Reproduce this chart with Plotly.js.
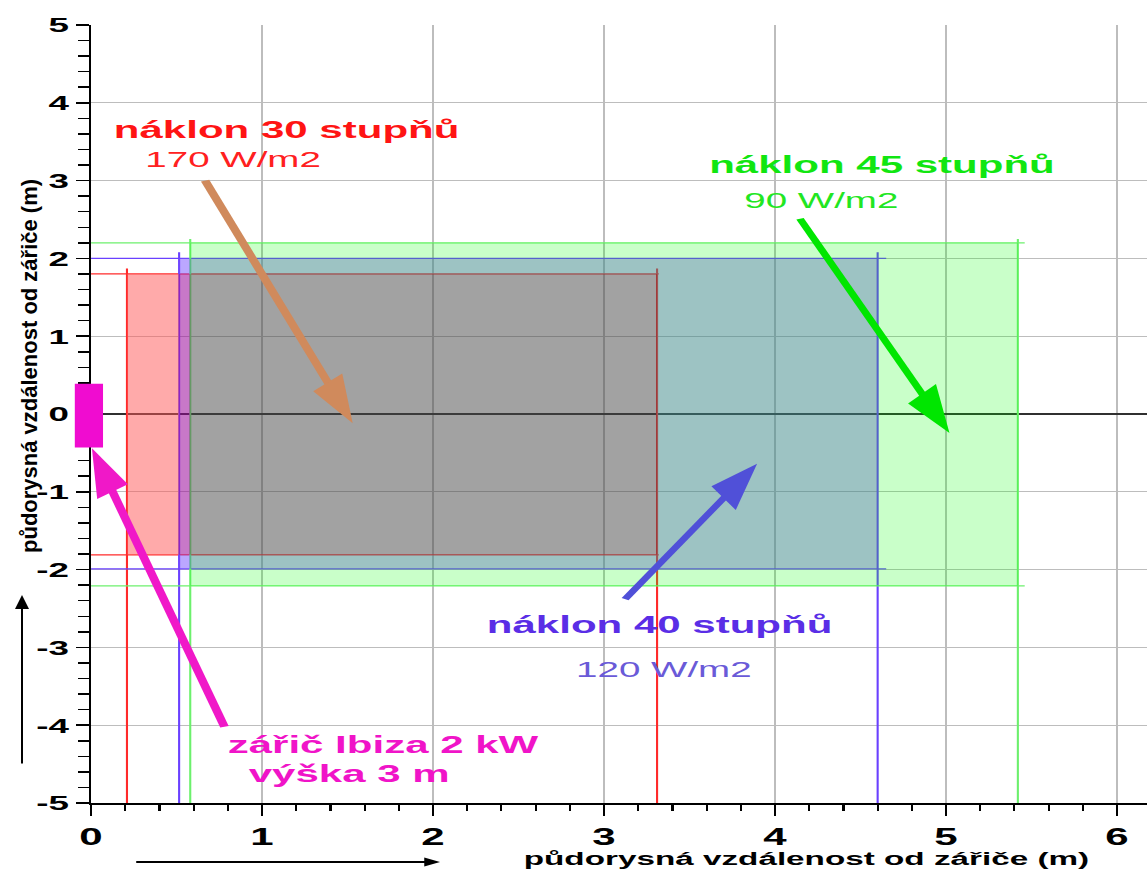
<!DOCTYPE html>
<html><head><meta charset="utf-8">
<script src="https://cdn.plot.ly/plotly-3.0.1.min.js"></script>
<style>
html,body{margin:0;padding:0;background:#fff;overflow:hidden}
#wrap{position:relative;width:1147px;height:877px;overflow:hidden}
#chart{position:absolute;left:0;top:0;width:655px;height:877px;transform:scaleX(1.7511);transform-origin:0 0}
#over{position:absolute;left:0;top:0;width:1147px;height:877px;pointer-events:none}
</style></head><body>
<div id="wrap"><div id="chart"></div><div id="over"></div></div>
<script>
// ---------- data ----------
const rectNames = ['náklon 30 stupňů', 'náklon 40 stupňů', 'náklon 45 stupňů'];
const rectPower = ['170 W/m2', '120 W/m2', '90 W/m2'];
const rectX0 = [0.21, 0.515, 0.58];
const rectX1 = [3.31, 4.60, 5.42];
const rectY0 = [-1.81, -1.99, -2.21];
const rectY1 = [1.80, 2.00, 2.20];
const emitterName = ['zářič Ibiza 2 kW', 'výška 3 m'];
const emitterX = [-0.095, 0.07];
const emitterY = [-0.43, 0.39];
// pointer arrows: tip and tail (30°, 40°, 45°, emitter)
const arrowTipX = [1.53, 3.895, 5.02, 0.005];
const arrowTipY = [-0.12, -0.64, -0.245, -0.44];
const arrowTailX = [0.667, 3.123, 4.146, 0.78];
const arrowTailY = [3.0, -2.38, 2.51, -4.02];
const xTickVals = [0, 1, 2, 3, 4, 5, 6];
const yTickVals = [-5, -4, -3, -2, -1, 0, 1, 2, 3, 4, 5];
const yTickText = ['-5', '-4', '-3', '-2', '-1', '0', '1', '2', '3', '4', '5'];
const xTitle = 'půdorysná vzdálenost od zářiče (m)';
const yTitle = 'půdorysná vzdálenost od zářiče (m)';

// ---------- styling ----------
const W = 655, H = 877, S = 1147 / 655;
const M = {l: 52, r: 0, t: 25, b: 74};
const XR = [0, 6.175], YR = [-5, 5];
const FONT = 'Liberation Sans, Arial, sans-serif';
const lineCol = ['#ff2a2a', '#6a40ff', '#6cf06c'];
const textCol = ['#ff1414', '#5a2ee6', '#11e611'];
const powCol = ['#ff2020', '#6a5ad8', '#22e622'];
const arrowCol = ['#d08a5c', '#5050d8', '#00e600', '#f018c8'];
const arrowW = [5, 4.5, 4.5, 5];
const HEAD_LEN = 48, HEAD_WID = 34;       // on-screen pixels
const hExt = [0.01, 0.05, 0.04];
const vExt = [0.07, 0.08, 0.05];

const [rx0, bx0, gx0] = rectX0;
const [rx1, bx1, gx1] = rectX1;
const [ry0, by0, gy0] = rectY0;
const [ry1, by1, gy1] = rectY1;

function box(x0, x1, y0, y1) { return {x: [x0, x1, x1, x0, x0], y: [y0, y0, y1, y1, y0]}; }
function fillTrace(geo, color) {
  return {type: 'scatter', mode: 'lines', x: geo.x, y: geo.y, fill: 'toself', fillcolor: color,
    line: {width: 0, color: 'rgba(0,0,0,0)'}, hoverinfo: 'skip', showlegend: false};
}

const traces = [];
for (let i = 0; i < 3; i++) {
  const xe = rectX1[i] + hExt[i], yt = rectY1[i] + vExt[i];
  traces.push({type: 'scatter', mode: 'lines', hoverinfo: 'skip', showlegend: false,
    x: [0, xe, null, 0, xe, null, rectX0[i], rectX0[i], null, rectX1[i], rectX1[i]],
    y: [rectY1[i], rectY1[i], null, rectY0[i], rectY0[i], null, yt, YR[0], null, yt, YR[0]],
    line: {color: lineCol[i], width: 1.2}});
}
traces.push(fillTrace({x: [gx0, gx1, gx1, gx0, gx0, bx1, bx1, gx0, gx0], y: [gy0, gy0, gy1, gy1, by1, by1, by0, by0, gy0]}, 'rgba(0,255,0,0.21)'));
traces.push(fillTrace({x: [gx0, bx1, bx1, gx0, gx0, rx1, rx1, gx0, gx0], y: [by0, by0, by1, by1, ry1, ry1, ry0, ry0, by0]}, 'rgba(60,135,135,0.5)'));
traces.push(fillTrace(box(gx0, rx1, ry0, ry1), 'rgba(70,70,70,0.5)'));
traces.push(fillTrace(box(bx0, gx0, ry0, ry1), 'rgba(155,10,155,0.55)'));
traces.push(fillTrace(box(rx0, bx0, ry0, ry1), 'rgba(255,85,85,0.5)'));
const lt = box(bx0, gx0, ry1, by1), lb = box(bx0, gx0, by0, ry0);
traces.push(fillTrace({x: lt.x.concat([null], lb.x), y: lt.y.concat([null], lb.y)}, 'rgba(120,80,255,0.5)'));

// pointer arrows: shaft + filled head, head shaped in screen pixels
const kx = (W - M.l - M.r) * S / (XR[1] - XR[0]);
const ky = (H - M.t - M.b) / (YR[1] - YR[0]);
for (let i = 0; i < 4; i++) {
  const dx = (arrowTipX[i] - arrowTailX[i]) * kx, dy = (arrowTipY[i] - arrowTailY[i]) * ky;
  const len = Math.hypot(dx, dy), ux = dx / len, uy = dy / len, nx = -uy, ny = ux;
  const bcx = arrowTipX[i] - ux * HEAD_LEN / kx, bcy = arrowTipY[i] - uy * HEAD_LEN / ky;
  const sx = arrowTipX[i] - ux * (HEAD_LEN - 6) / kx, sy = arrowTipY[i] - uy * (HEAD_LEN - 6) / ky;
  traces.push({type: 'scatter', mode: 'lines', hoverinfo: 'skip', showlegend: false,
    x: [arrowTailX[i], sx], y: [arrowTailY[i], sy], line: {color: arrowCol[i], width: arrowW[i]}});
  traces.push({type: 'scatter', mode: 'lines', hoverinfo: 'skip', showlegend: false, fill: 'toself',
    fillcolor: arrowCol[i], line: {width: 0, color: arrowCol[i]},
    x: [arrowTipX[i], bcx + nx * HEAD_WID / 2 / kx, bcx - nx * HEAD_WID / 2 / kx, arrowTipX[i]],
    y: [arrowTipY[i], bcy + ny * HEAD_WID / 2 / ky, bcy - ny * HEAD_WID / 2 / ky, arrowTipY[i]]});
}

// ---------- annotations ----------
const ann = [];
const labelPos = [[1.14, 3.66], [3.32, -2.71], [4.62, 3.21]];
const powPos = [[0.83, 3.27], [3.345, -3.28], [4.27, 2.75]];
for (let i = 0; i < 3; i++) {
  ann.push({x: labelPos[i][0], y: labelPos[i][1], xref: 'x', yref: 'y', text: rectNames[i], showarrow: false,
    xanchor: 'center', yanchor: 'middle', font: {family: FONT, size: 24, color: textCol[i], weight: 'bold'}});
  ann.push({x: powPos[i][0], y: powPos[i][1], xref: 'x', yref: 'y', text: rectPower[i], showarrow: false,
    xanchor: 'center', yanchor: 'middle', font: {family: FONT, size: 22, color: powCol[i]}});
}
ann.push({x: 1.713, y: -4.25, xref: 'x', yref: 'y', text: emitterName[0], showarrow: false,
  xanchor: 'center', yanchor: 'middle', font: {family: FONT, size: 24, color: '#f014c8', weight: 'bold'}});
ann.push({x: 1.51, y: -4.62, xref: 'x', yref: 'y', text: emitterName[1], showarrow: false,
  xanchor: 'center', yanchor: 'middle', font: {family: FONT, size: 24, color: '#f014c8', weight: 'bold'}});
// x axis title and direction arrow
ann.push({xref: 'paper', yref: 'paper', x: 0.678, y: -0.0707, xanchor: 'center', yanchor: 'middle', text: xTitle, showarrow: false,
  font: {family: FONT, size: 19, color: '#000', weight: 'bold'}});
ann.push({xref: 'paper', yref: 'paper', x: 0.3305, y: -0.0758, ax: -175, ay: 0, text: '', showarrow: true,
  arrowhead: 2, arrowsize: 0.9, arrowwidth: 2, arrowcolor: '#000', standoff: 0});

const layout = {
  width: W, height: H,
  margin: {l: M.l, r: M.r, t: M.t, b: M.b, pad: 0},
  paper_bgcolor: '#fff', plot_bgcolor: '#fff', showlegend: false,
  xaxis: {range: XR, tickmode: 'array', tickvals: xTickVals, showgrid: true, gridcolor: '#bdbdbd', gridwidth: 1,
    zeroline: false, showline: true, linecolor: '#000', linewidth: 2, ticks: 'outside', ticklen: 11, tickwidth: 1.2,
    tickcolor: '#000', minor: {tickmode: 'linear', tick0: 0, dtick: 0.2, ticks: 'outside', ticklen: 6, tickwidth: 1.2, tickcolor: '#000', showgrid: false},
    tickfont: {family: FONT, size: 24, color: '#000', weight: 'bold'}, fixedrange: true},
  yaxis: {range: YR, tickmode: 'array', tickvals: yTickVals, ticktext: yTickText, showgrid: true, gridcolor: '#bdbdbd', gridwidth: 1.3,
    zeroline: true, zerolinecolor: '#303030', zerolinewidth: 1.2, showline: true, linecolor: '#000', linewidth: 1.2,
    ticks: 'outside', ticklen: 7.2, tickwidth: 1.5, tickcolor: '#000',
    minor: {tickmode: 'linear', tick0: 0, dtick: 0.2, ticks: 'outside', ticklen: 6, tickwidth: 1.5, tickcolor: '#000', showgrid: false},
    tickfont: {family: FONT, size: 21, color: '#000', weight: 'bold'}, fixedrange: true},
  shapes: [{type: 'rect', xref: 'x domain', yref: 'y domain', layer: 'above',
    x0: (emitterX[0] - XR[0]) / (XR[1] - XR[0]), x1: (emitterX[1] - XR[0]) / (XR[1] - XR[0]),
    y0: (emitterY[0] - YR[0]) / (YR[1] - YR[0]), y1: (emitterY[1] - YR[0]) / (YR[1] - YR[0]),
    fillcolor: '#f00cd0', line: {width: 0}}],
  annotations: ann
};
Plotly.newPlot('chart', traces, layout, {staticPlot: true, displayModeBar: false});

// un-stretched overlay: rotated y-axis title and its direction arrow
Plotly.newPlot('over', [], {
  width: 1147, height: 877, margin: {l: 0, r: 0, t: 0, b: 0},
  paper_bgcolor: 'rgba(0,0,0,0)', plot_bgcolor: 'rgba(0,0,0,0)',
  xaxis: {visible: false, range: [0, 1]}, yaxis: {visible: false, range: [0, 1]},
  annotations: [
    {xref: 'paper', yref: 'paper', x: 30 / 1147, y: 1 - 366 / 877, xanchor: 'center', yanchor: 'middle',
      text: yTitle, textangle: -90, showarrow: false,
      font: {family: FONT, size: 22, color: '#000', weight: 'bold'}},
    {xref: 'paper', yref: 'paper', x: 22 / 1147, y: 1 - 595 / 877, ax: 0, ay: 170, text: '', showarrow: true,
      arrowhead: 2, arrowsize: 1.4, arrowwidth: 2, arrowcolor: '#000', standoff: 0}
  ]
}, {staticPlot: true, displayModeBar: false});
</script>
</body></html>
